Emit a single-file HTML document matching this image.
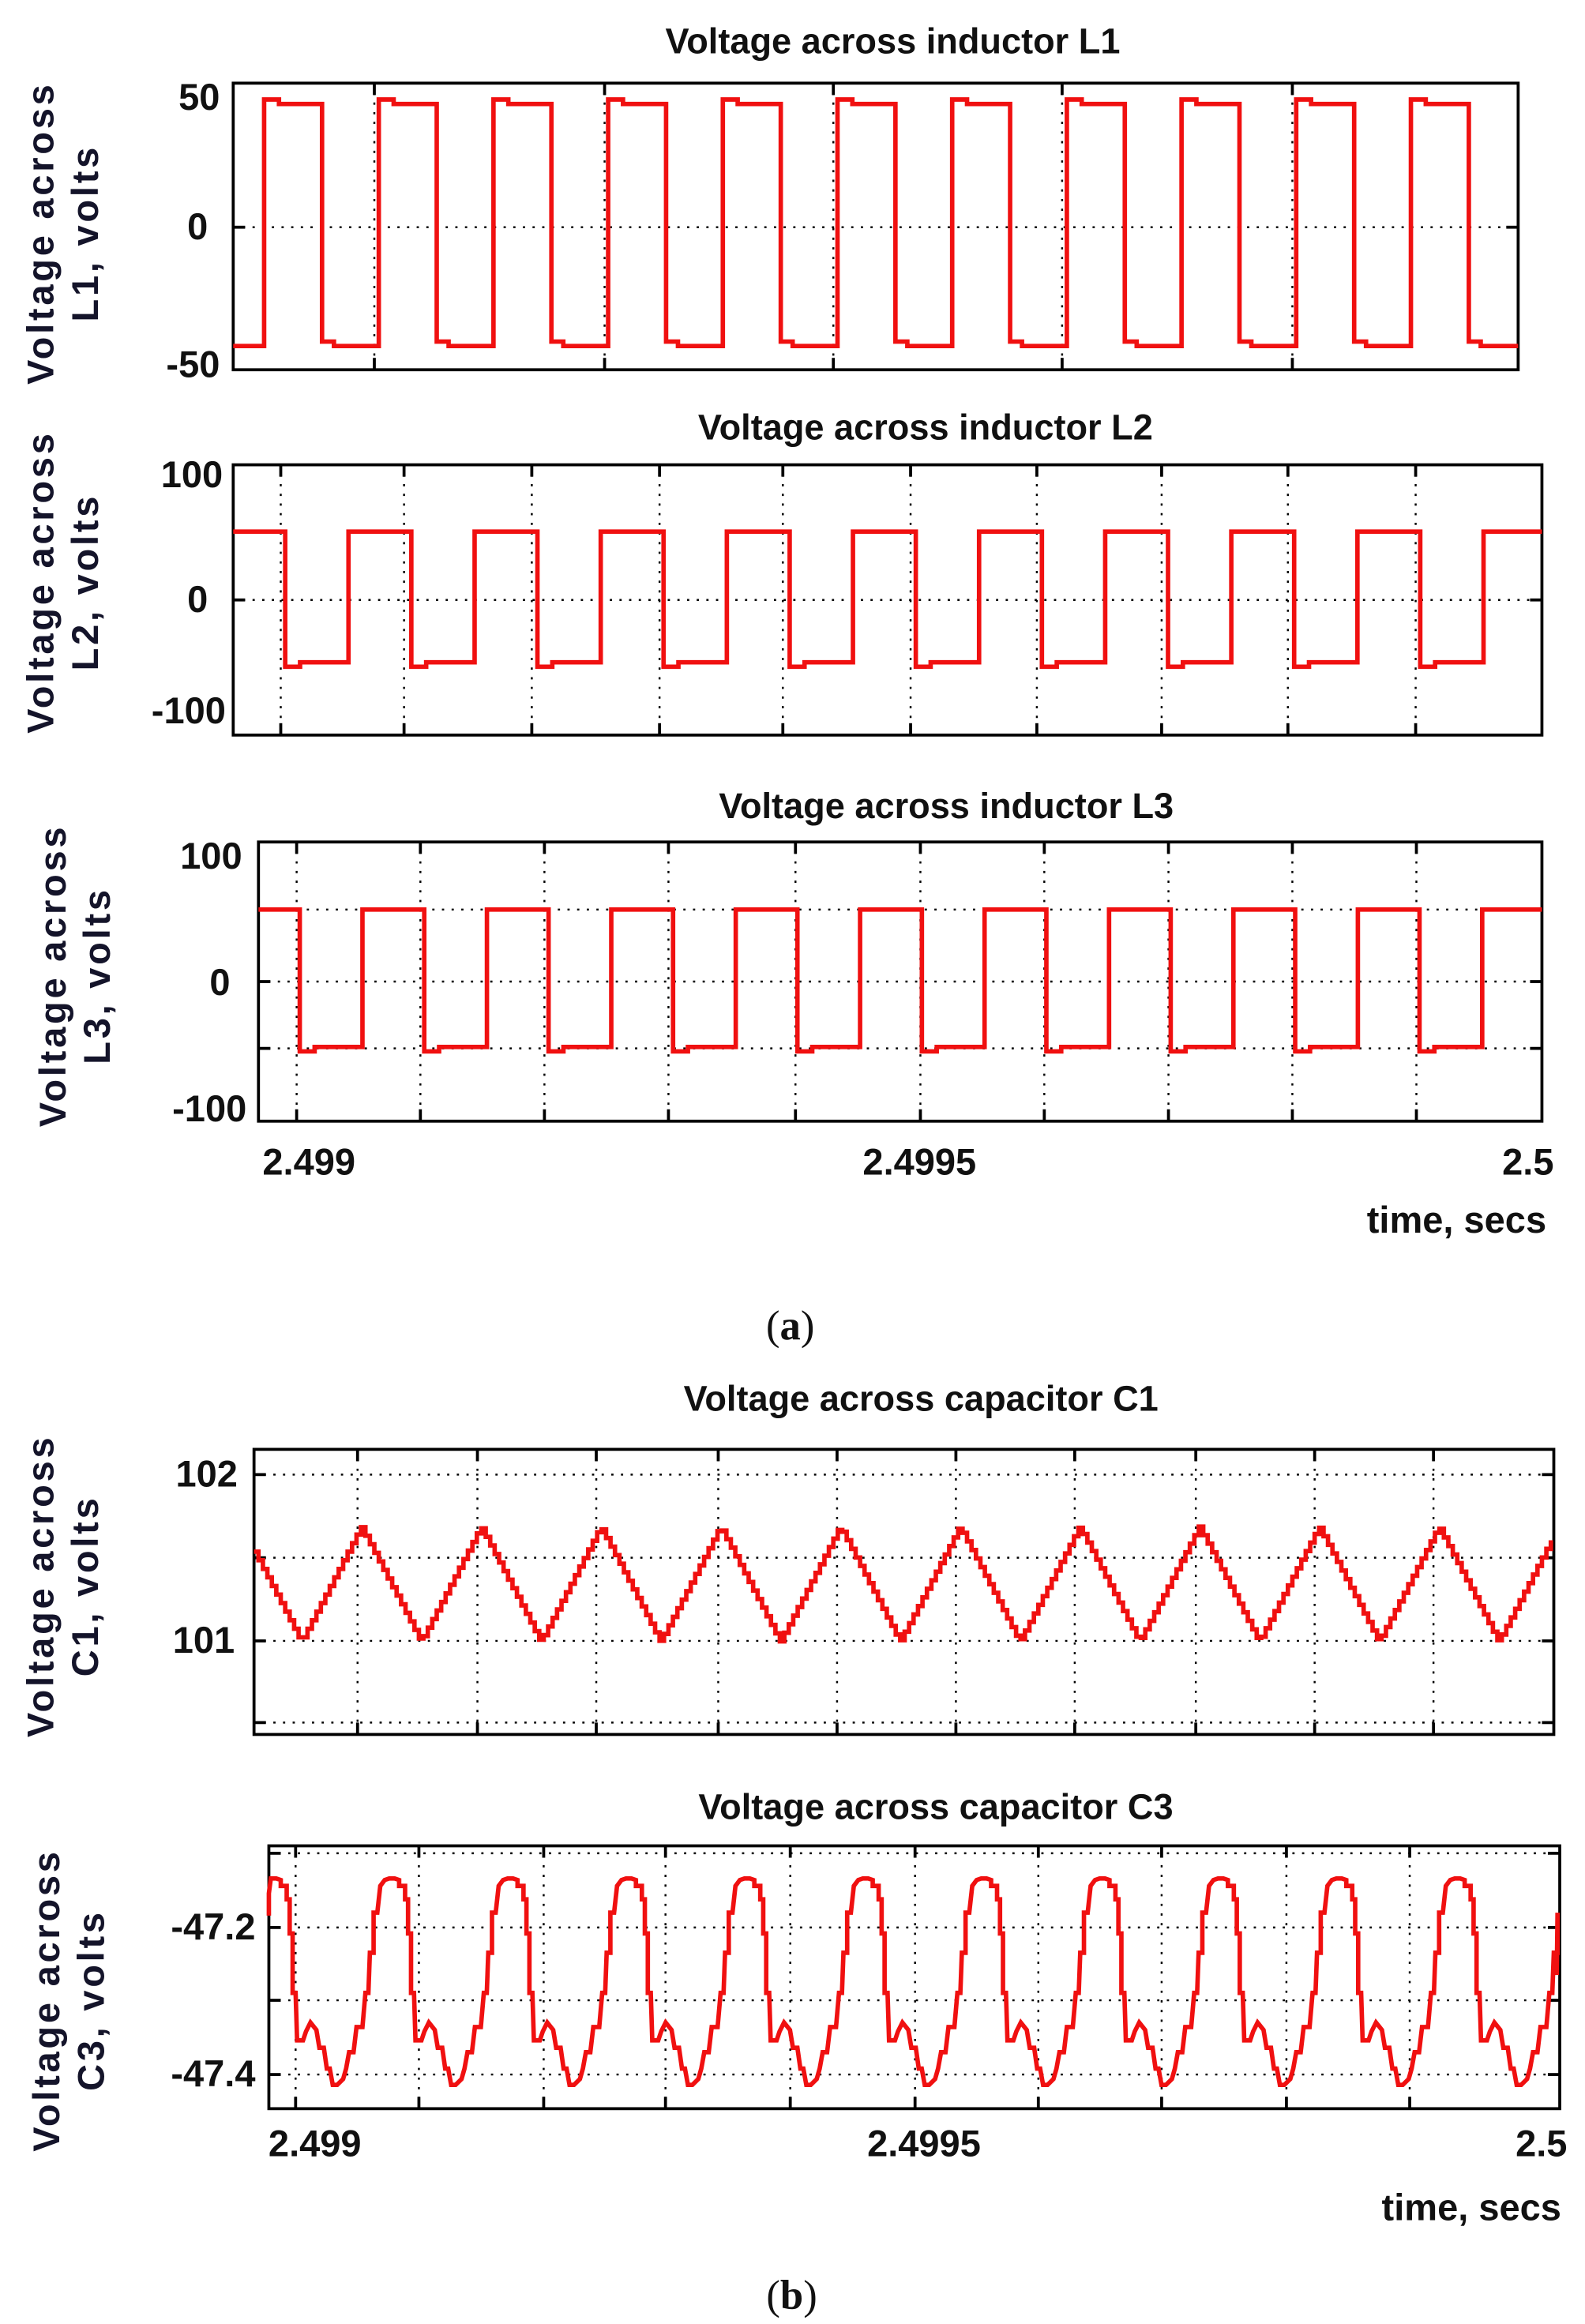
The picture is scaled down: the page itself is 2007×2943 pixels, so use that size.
<!DOCTYPE html>
<html><head><meta charset="utf-8"><style>
html,body{margin:0;padding:0;background:#fff;}
svg{display:block;}
text{font-family:"Liberation Sans",sans-serif;font-weight:bold;fill:#111;}
.t{font-size:24px;}
.k{font-size:25px;}
.yl{font-size:25px;fill:#14142a;letter-spacing:2px;}
.cap{font-family:"Liberation Serif",serif;font-size:28px;font-weight:normal;}
</style></head><body>
<svg id="s" width="2007" height="2943" viewBox="0 0 1067 1565" preserveAspectRatio="none" xmlns="http://www.w3.org/2000/svg">
<g id="grid" stroke="#000" stroke-width="1.3" stroke-dasharray="1.5,5" fill="none"></g>
<g id="ticks" stroke="#000" stroke-width="2" fill="none"></g>
<g id="boxes" stroke="#000" stroke-width="2" fill="none"></g>
<g id="waves" stroke="#f01010" stroke-width="3" fill="none" stroke-linejoin="miter"></g>

<text class="t" x="601" y="36" text-anchor="middle">Voltage across inductor L1</text>
<text class="t" x="623" y="296" text-anchor="middle">Voltage across inductor L2</text>
<text class="t" x="637" y="551" text-anchor="middle">Voltage across inductor L3</text>
<text class="t" x="620" y="950" text-anchor="middle">Voltage across capacitor C1</text>
<text class="t" x="630" y="1225" text-anchor="middle">Voltage across capacitor C3</text>

<g class="yl" text-anchor="middle">
<text class="yl" transform="translate(36,157) rotate(-90)">Voltage across</text>
<text class="yl" transform="translate(66,157) rotate(-90)">L1, volts</text>
<text class="yl" transform="translate(36,392) rotate(-90)">Voltage across</text>
<text class="yl" transform="translate(66,392) rotate(-90)">L2, volts</text>
<text class="yl" transform="translate(44,657) rotate(-90)">Voltage across</text>
<text class="yl" transform="translate(74,657) rotate(-90)">L3, volts</text>
<text class="yl" transform="translate(36,1068) rotate(-90)">Voltage across</text>
<text class="yl" transform="translate(66,1068) rotate(-90)">C1, volts</text>
<text class="yl" transform="translate(40,1347) rotate(-90)">Voltage across</text>
<text class="yl" transform="translate(70,1347) rotate(-90)">C3, volts</text>
</g>

<g class="k" text-anchor="end">
<text class="k" x="148" y="74">50</text>
<text class="k" x="140" y="161">0</text>
<text class="k" x="148" y="254">-50</text>
<text class="k" x="150" y="328">100</text>
<text class="k" x="140" y="412">0</text>
<text class="k" x="152" y="487">-100</text>
<text class="k" x="163" y="585">100</text>
<text class="k" x="155" y="670">0</text>
<text class="k" x="166" y="755">-100</text>
<text class="k" x="160" y="1001">102</text>
<text class="k" x="158" y="1113">101</text>
<text class="k" x="172" y="1306">-47.2</text>
<text class="k" x="172" y="1405">-47.4</text>
</g>
<text class="k" x="208" y="791" text-anchor="middle">2.499</text>
<text class="k" x="619" y="791" text-anchor="middle">2.4995</text>
<text class="k" x="1046" y="791" text-anchor="end">2.5</text>
<text class="k" x="1041" y="830" text-anchor="end">time, secs</text>
<text class="k" x="212" y="1452" text-anchor="middle">2.499</text>
<text class="k" x="622" y="1452" text-anchor="middle">2.4995</text>
<text class="k" x="1055" y="1452" text-anchor="end">2.5</text>
<text class="k" x="1051" y="1495" text-anchor="end">time, secs</text>
<text class="cap" x="532" y="902" text-anchor="middle">(<tspan font-weight="bold">a</tspan>)</text>
<text class="cap" x="533" y="1555" text-anchor="middle">(<tspan font-weight="bold">b</tspan>)</text>
</svg>
<script>
var NS="http://www.w3.org/2000/svg";
function el(g,tag,a){var e=document.createElementNS(NS,tag);for(var k in a)e.setAttribute(k,a[k]);document.getElementById(g).appendChild(e);}
var plots=[
 {x0:157,x1:1022,y0:56,y1:249,vx:[252,407,561,715,870],hy:[153]},
 {x0:157,x1:1038,y0:313,y1:495,vx:[189,272,358,444,527,613,698,782,867,953],hy:[404]},
 {x0:174,x1:1038,y0:567,y1:755,vx:[199.7,283,366.5,450,535.5,619.6,703,786.6,870,953.5],hy:[612.5,661,706]},
 {x0:171,x1:1046,y0:976,y1:1168,vx:[240.7,321.4,401.4,483.5,563.5,643.5,723.5,805,885,965],hy:[993,1049,1105,1160]},
 {x0:181,x1:1050,y0:1243,y1:1420,vx:[199,282,366,448,532,616,699,782,866,949],hy:[1248,1298,1347,1397]}
];
plots.forEach(function(p){
 el("boxes","rect",{x:p.x0,y:p.y0,width:p.x1-p.x0,height:p.y1-p.y0});
 p.vx.forEach(function(x){el("grid","line",{x1:x,y1:p.y0,x2:x,y2:p.y1});
  el("ticks","line",{x1:x,y1:p.y0,x2:x,y2:p.y0+8});el("ticks","line",{x1:x,y1:p.y1,x2:x,y2:p.y1-8});});
 p.hy.forEach(function(y){el("grid","line",{x1:p.x0,y1:y,x2:p.x1,y2:y});
  el("ticks","line",{x1:p.x0,y1:y,x2:p.x0+8,y2:y});el("ticks","line",{x1:p.x1,y1:y,x2:p.x1-8,y2:y});});
});
function clampPath(pts,x0,x1){var d="";pts=pts.filter(function(q){return q[0]>=x0-0.01&&q[0]<=x1+0.01;});
 pts.forEach(function(q,i){d+=(i?"L":"M")+q[0].toFixed(1)+" "+q[1].toFixed(1)+" ";});return d;}
function square(x0,x1,first,per,w,hi,lo,startHigh){
 var pts=[];var y=startHigh?hi:lo;pts.push([x0,y]);
 for(var k=-1;k<20;k++){var a=first+k*per,b=a+w;
  if(!startHigh){
   if(a>x0&&a<x1){pts.push([a,lo]);pts.push([a,hi-3]);pts.push([a+10,hi-3]);pts.push([a+10,hi]);}
   if(b>x0&&b<x1){pts.push([b,hi]);pts.push([b,lo-3]);pts.push([b+8,lo-3]);pts.push([b+8,lo]);}
  } else {
   if(a>x0&&a<x1){pts.push([a,hi]);pts.push([a,lo+3]);pts.push([a+10,lo+3]);pts.push([a+10,lo]);}
   if(b>x0&&b<x1){pts.push([b,lo]);pts.push([b,hi]);}
  }}
 pts.push([x1,pts[pts.length-1][1]]);
 return clampPath(pts,x0,x1);}
el("waves","path",{d:square(157,1022,177.8,77.2,39,70,233,false)});
el("waves","path",{d:square(157,1038,192,84.9,42.6,358,446,true)});
el("waves","path",{d:square(174,1038,201.8,83.76,42.2,612.5,705,true)});
(function(){var per=80.6,pk=242.8,tr=202.5,yp=1028,yt=1105.5,pts=[];
 function f(x){var u=((x-tr)%per+per)%per;var r=pk-tr;
  if(u<r)return yt+(yp-yt)*u/r;return yp+(yt-yp)*(u-r)/(per-r);}
 var prev=null;for(var x=171;x<=1046;x+=3){var y=f(x);if(prev!==null){pts.push([x,prev]);}pts.push([x,y]);prev=y;}
 el("waves","path",{d:clampPath(pts,171,1046)});})();
(function(){var per=79.7,p0=186;
 var sh=[[0,1265],[3,1266],[3,1270],[7,1270],[7,1279],[9,1279],[9,1302],[11,1302],[11,1342],[13,1342],[14,1374],[18,1374],[20,1368],[23,1362],[27,1367],[29,1379],[32,1379],[34,1393],[36,1393],[38,1404],[41,1404],[45,1400],[47,1393],[49,1382],[52,1382],[54,1365],[58,1365],[60,1342],[62,1342],[63,1315],[65.5,1315],[65.5,1288],[68,1288],[70,1270],[73,1266],[76,1265]];
 var pts=[[181,1290],[181,1275]];
 for(var k=-1;k<14;k++){var b=p0+k*per;sh.forEach(function(q){var x=b+q[0];if(x>181&&x<1050)pts.push([x,q[1]]);});}
 pts.push([1048,1330]);pts.push([1048,1318]);
 el("waves","path",{d:clampPath(pts,181,1050)});})();
</script>
</body></html>
